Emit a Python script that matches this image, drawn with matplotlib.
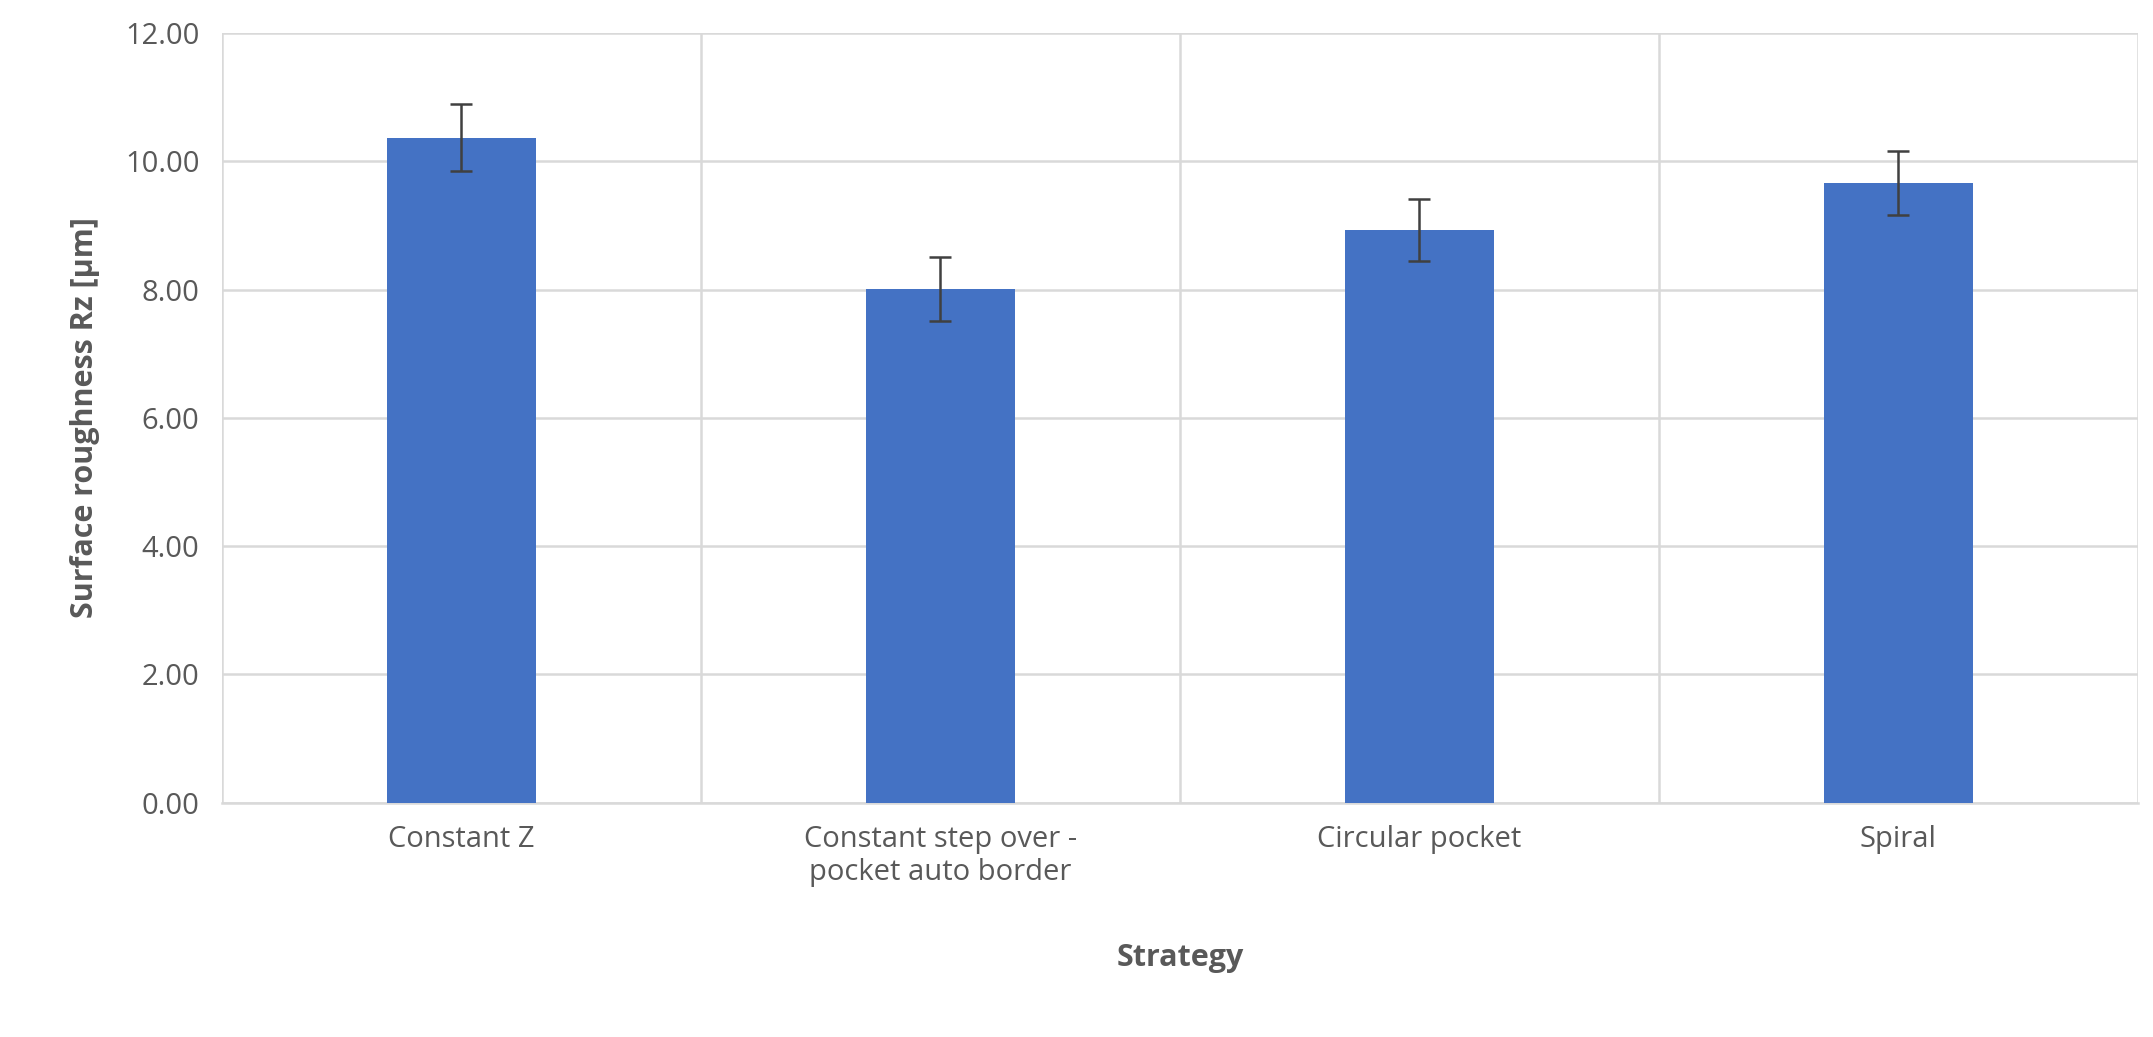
import matplotlib.pyplot as plt
import numpy as np

strategies = ["Constant Z", "Constant step over -\npocket auto border", "Circular pocket", "Spiral"]
rz_mean = [10.37, 8.01, 8.93, 9.66]
rz_err = [0.52, 0.50, 0.49, 0.50]

plt.rcParams['font.family'] = ['Open Sans', 'DejaVu Sans']

fig = plt.figure(figsize=(21.53, 10.37), dpi=100)
ax = fig.add_axes([0.103, 0.226, 0.890, 0.742])

x = np.arange(len(strategies))
ax.bar(x, rz_mean, width=0.31, color="#4472C4", zorder=3,
       yerr=rz_err, error_kw=dict(ecolor="#404040", elinewidth=1.8, capsize=8, capthick=1.8))

ax.set_xlim(-0.5, len(strategies) - 0.5)
ax.set_ylim(0, 12)
ax.set_yticks(np.arange(0, 12.01, 2))
ax.set_yticklabels(["%.2f" % v for v in np.arange(0, 12.01, 2)])
ax.set_xticks(x)
ax.set_xticklabels(strategies)
ax.set_xticks(np.arange(-0.5, len(strategies), 1), minor=True)

ax.grid(axis="y", color="#d9d9d9", linewidth=1.8, zorder=0)
ax.grid(axis="x", which="minor", color="#d9d9d9", linewidth=1.8, zorder=0)
ax.grid(axis="x", which="major", visible=False)
for s in ["top", "right", "left"]:
    ax.spines[s].set_visible(False)
ax.spines["bottom"].set_color("#d9d9d9")
ax.spines["bottom"].set_linewidth(1.8)
ax.tick_params(which="both", length=0, labelsize=21, colors="#595959", pad=16)

ax.set_ylabel("Surface roughness Rz [µm]", fontsize=22, fontweight="bold", color="#595959", labelpad=18)
ax.set_xlabel("Strategy", fontsize=22, fontweight="bold", color="#595959", labelpad=40)

fig.savefig("out.png", dpi=100)
